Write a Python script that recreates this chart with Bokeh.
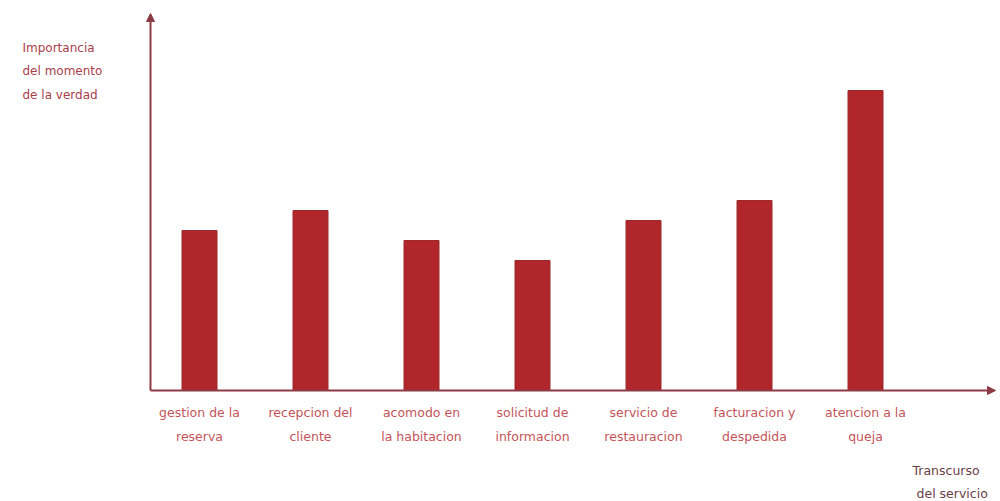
from bokeh.plotting import figure
from bokeh.models import Range1d, Arrow, NormalHead, ColumnDataSource
from bokeh.core.properties import value
from bokeh.embed import file_html
from bokeh.resources import INLINE

# ---- data ----
cat_line1 = ["gestion de la", "recepcion del", "acomodo en", "solicitud de",
             "servicio de", "facturacion y", "atencion a la"]
cat_line2 = ["reserva", "cliente", "la habitacion", "informacion",
             "restauracion", "despedida", "queja"]
importance = [3.2, 3.6, 3.0, 2.6, 3.4, 3.8, 6.0]
y_title = ["Importancia", "del momento", "de la verdad"]
x_title = ["Transcurso", "del servicio"]

xs = list(range(len(importance)))

# pixel mapping: 111 px per category, 50 px per unit; baseline at y=390px, first bar at x=199px
p = figure(width=1000, height=501, output_backend="svg", toolbar_location=None,
           x_range=Range1d(-199 / 111, 801 / 111), y_range=Range1d(-111 / 50, 390 / 50),
           min_border=0, x_axis_location=None, y_axis_location=None)
p.outline_line_color = None
p.xgrid.visible = False
p.ygrid.visible = False
p.background_fill_color = "white"
p.border_fill_color = "white"

src = ColumnDataSource(dict(x=xs, top=importance, l1=cat_line1, l2=cat_line2))
p.vbar(x="x", top="top", bottom=0, width=35 / 111, source=src,
       fill_color="#b0262a", line_color="#9a2a2c", line_width=1)

ax_color = "#8e3a44"
x0 = -49 / 111
p.add_layout(Arrow(x_start=x0, y_start=0, x_end=796 / 111, y_end=0,
                   line_color=ax_color, line_width=2,
                   end=NormalHead(size=8, fill_color=ax_color, line_color=ax_color)))
p.add_layout(Arrow(x_start=x0, y_start=0, x_end=x0, y_end=377 / 50,
                   line_color=ax_color, line_width=2,
                   end=NormalHead(size=8, fill_color=ax_color, line_color=ax_color)))

font = value("DejaVu Sans")
lab_color = "#c4545a"
p.text(x="x", y=-22 / 50, text="l1", source=src, text_align="center",
       text_baseline="middle", text_font=font, text_font_size="12.5px",
       text_color=lab_color)
p.text(x="x", y=-46 / 50, text="l2", source=src, text_align="center",
       text_baseline="middle", text_font=font, text_font_size="12.5px",
       text_color=lab_color)

title_color = "#a8404c"
ty = [(390 - 47) / 50, (390 - 70) / 50, (390 - 94) / 50]
p.text(x=[(22 - 199) / 111] * 3, y=ty, text=y_title, text_align="left",
       text_baseline="middle", text_font=font, text_font_size="12px",
       text_color=title_color)

p.text(x=[(912 - 199) / 111, (916 - 199) / 111], y=[(390 - 470) / 50, (390 - 493) / 50],
       text=x_title, text_align="left", text_baseline="middle",
       text_font=font, text_font_size="12.5px", text_color="#6a4048")

open("out.html", "w").write(file_html(p, INLINE))
